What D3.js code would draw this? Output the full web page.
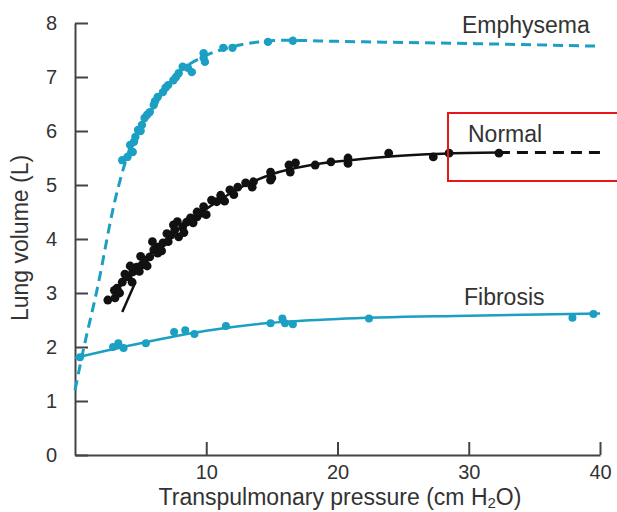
<!DOCTYPE html>
<html>
<head>
<meta charset="utf-8">
<script src="https://cdn.jsdelivr.net/npm/d3@7"></script>
<style>
  body { margin: 0; background: #fff; }
  svg { display: block; font-family: "Liberation Sans", Arial, sans-serif; }
  .axis path, .axis line { stroke: #444; stroke-width: 2; }
  .axis text { fill: #333; font-size: 20px; font-family: "Liberation Sans", Arial, sans-serif; }
  .label { fill: #333; font-size: 23px; }
</style>
</head>
<body>
<svg id="chart" width="617" height="512"></svg>
<script>
// measured points, [pressure cm H2O, volume L]
const emphysemaDots = [
  [3.6, 5.46], [4.0, 5.52], [4.4, 5.61], [4.2, 5.74], [4.6, 5.89], [4.8, 6.02],
  [5.1, 6.11], [5.3, 6.24], [5.7, 6.35], [6.0, 6.48], [6.3, 6.63], [6.7, 6.72],
  [7.1, 6.85], [7.5, 6.94], [7.9, 7.07], [8.2, 7.19], [8.6, 7.17], [8.9, 7.09],
  [4.5, 5.8], [5.0, 6.0], [5.5, 6.3], [6.1, 6.55], [6.9, 6.8], [7.7, 7.0],
  [9.8, 7.44], [9.8, 7.35], [9.9, 7.28], [11.3, 7.54], [12.0, 7.54],
  [14.7, 7.65], [16.6, 7.67]
];
const emphysemaCurve = [
  [0, 1.2], [0.63, 1.94], [1.68, 3.06], [3.05, 4.72], [4, 5.55], [6, 6.45],
  [8, 7.1], [10, 7.4], [12, 7.56], [14, 7.65], [16, 7.68], [20, 7.66],
  [30, 7.62], [40, 7.57]
];

const normalDots = [
  [2.5, 2.87], [3.05, 2.91], [3.2, 3.09], [3.6, 3.2], [4.05, 3.3], [4.4, 3.39],
  [4.7, 3.48], [4.35, 3.2], [5.1, 3.52], [5.3, 3.61], [5.7, 3.67], [6.0, 3.8],
  [6.3, 3.85], [6.3, 3.74], [6.7, 3.93], [7.1, 3.95], [7.3, 4.07], [7.6, 4.17],
  [7.5, 4.26], [7.9, 4.04], [8.2, 4.22], [8.5, 4.31], [8.9, 4.35], [9.3, 4.41],
  [9.7, 4.48], [8.8, 4.39], [9.0, 4.3], [9.3, 4.5], [9.8, 4.6], [10.8, 4.69],
  [3.0, 3.05], [3.4, 3.0], [3.8, 3.35], [4.2, 3.5], [4.9, 3.4], [5.5, 3.5],
  [5.0, 3.68], [5.9, 3.95], [6.6, 3.78], [7.0, 4.1], [7.8, 4.32], [8.3, 4.12],
  [10.0, 4.45], [10.4, 4.72], [11.4, 4.7], [12.1, 4.82],
  [11.1, 4.81], [11.8, 4.91], [12.4, 4.96], [13.0, 5.04], [13.6, 5.06],
  [13.5, 4.96], [14.9, 5.24], [15.0, 5.13], [14.9, 5.09], [16.3, 5.37],
  [16.8, 5.41], [16.4, 5.24], [18.3, 5.37], [19.5, 5.43], [20.8, 5.5],
  [20.8, 5.4], [23.9, 5.59], [27.3, 5.52], [28.5, 5.59], [32.3, 5.59]
];
const normalCurve = [
  [3, 3.0], [5, 3.55], [7, 4.0], [9, 4.38], [11, 4.72], [13, 5.0], [15, 5.2],
  [18, 5.37], [21, 5.46], [24, 5.53], [28, 5.58], [32.3, 5.6]
];
const normalExtension = [[32.3, 5.6], [40, 5.6]];
const normalTangent = [[3.6, 2.65], [4.6, 3.2]];

const fibrosisDots = [
  [0.38, 1.81], [2.9, 2.0], [3.3, 2.07], [3.7, 1.98], [5.4, 2.07], [7.55, 2.28],
  [8.4, 2.31], [9.1, 2.24], [11.5, 2.39], [14.9, 2.44], [15.8, 2.53],
  [16.0, 2.44], [16.6, 2.42], [22.4, 2.53], [37.9, 2.54], [39.5, 2.61]
];
const fibrosisCurve = [
  [0, 1.8], [5, 2.07], [10, 2.3], [15, 2.45], [20, 2.52], [30, 2.58], [40, 2.62]
];

const xTicks = [10, 20, 30, 40];
const yTicks = [0, 1, 2, 3, 4, 5, 6, 7, 8];

const cyan = "#1b9fc3";

let svg = d3.select("#chart");

let xScale = d3.scaleLinear().domain([0, 40]).range([75, 600]);
let yScale = d3.scaleLinear().domain([0, 8]).range([455, 23]);

// axes, ticks point inward
svg.append("g")
    .attr("class", "axis")
    .attr("transform", "translate(0,455)")
    .call(d3.axisBottom(xScale).tickValues(xTicks).tickSizeInner(-13).tickSizeOuter(0).tickPadding(10));

svg.append("g")
    .attr("class", "axis")
    .attr("transform", "translate(75,0)")
    .call(d3.axisLeft(yScale).tickValues(yTicks).tickSizeInner(-13).tickSizeOuter(0).tickPadding(18));

let line = d3.line()
    .curve(d3.curveMonotoneX)
    .x((d) => xScale(d[0]))
    .y((d) => yScale(d[1]));

function drawCurve(data, color, dash) {
    svg.append("path")
        .attr("d", line(data))
        .attr("fill", "none")
        .attr("stroke", color)
        .attr("stroke-width", dash ? 3 : 2.5)
        .attr("stroke-dasharray", dash || null);
}

function drawDots(data, color, r) {
    svg.append("g").selectAll("circle")
        .data(data)
        .enter()
        .append("circle")
        .attr("cx", (d) => xScale(d[0]))
        .attr("cy", (d) => yScale(d[1]))
        .attr("r", r)
        .attr("fill", color);
}

drawCurve(emphysemaCurve, cyan, "10,6");
drawDots(emphysemaDots, cyan, 4.2);

drawCurve(fibrosisCurve, cyan);
drawDots(fibrosisDots, cyan, 4);

drawCurve(normalCurve, "#111");
drawCurve(normalExtension, "#111", "11,7");
drawCurve(normalTangent, "#111");
drawDots(normalDots, "#111", 4.4);

// series labels
svg.append("text").attr("class", "label").attr("x", 462).attr("y", 33).text("Emphysema");
svg.append("text").attr("class", "label").attr("x", 468).attr("y", 142).text("Normal");
svg.append("text").attr("class", "label").attr("x", 464).attr("y", 305).text("Fibrosis");

// highlight box
svg.append("rect")
    .attr("x", 448).attr("y", 113)
    .attr("width", 180).attr("height", 68)
    .attr("fill", "none")
    .attr("stroke", "#e8161b")
    .attr("stroke-width", 2);

// axis titles
let xTitle = svg.append("text")
    .attr("class", "label")
    .attr("x", 340).attr("y", 505)
    .attr("text-anchor", "middle");
xTitle.append("tspan").text("Transpulmonary pressure (cm H");
xTitle.append("tspan").attr("font-size", "15px").attr("dy", 3).text("2");
xTitle.append("tspan").attr("dy", -3).text("O)");

svg.append("text")
    .attr("class", "label")
    .attr("font-size", "21px")
    .attr("transform", "translate(28,238) rotate(-90)")
    .attr("text-anchor", "middle")
    .text("Lung volume (L)");
</script>
</body>
</html>
